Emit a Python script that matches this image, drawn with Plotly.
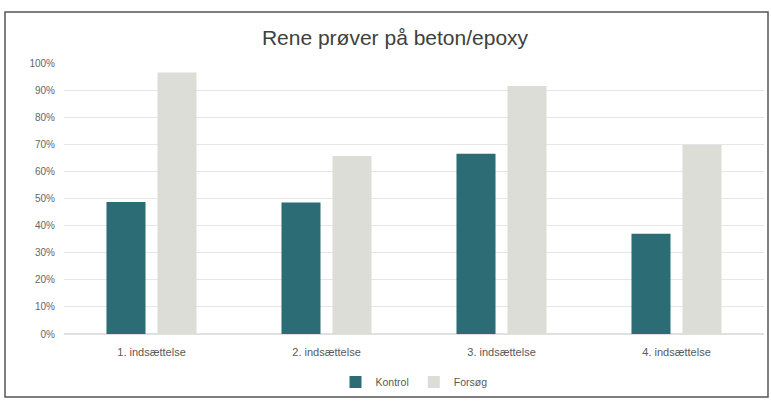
import plotly.graph_objects as go

categories = ["1. indsættelse", "2. indsættelse", "3. indsættelse", "4. indsættelse"]
kontrol = [0.487, 0.485, 0.665, 0.37]
forsoeg = [0.965, 0.657, 0.915, 0.697]

W, H = 771, 403
L, R, T, B = 64, 7, 63, 69
pw, ph = W - L - R, H - T - B

fig = go.Figure()
fig.add_trace(go.Bar(name="Kontrol", x=categories, y=kontrol, marker=dict(color="#2B6C75", line=dict(width=0))))
fig.add_trace(go.Bar(name="Forsøg", x=categories, y=forsoeg, marker=dict(color="#DCDDD7", line=dict(width=0))))

def px_x(p):
    return (p - L) / pw

def px_y(p):
    return (H - B - p) / ph

fig.update_layout(
    width=W, height=H,
    margin=dict(l=L, r=R, t=T, b=B),
    paper_bgcolor="white", plot_bgcolor="white",
    barmode="group", bargap=0.417, bargroupgap=0.235,
    font=dict(family="Liberation Sans, Arial, sans-serif", color="#595959"),
    title=dict(text="Rene prøver på beton/epoxy", x=395 / W, xanchor="center", y=1 - 38 / H, yanchor="middle",
               font=dict(size=21, color="#404040")),
    legend=dict(orientation="h", x=0.5, xanchor="center", y=px_y(382), yanchor="middle",
                font=dict(size=10.5, color="#595959"), itemwidth=30, traceorder="normal",
                bgcolor="rgba(0,0,0,0)", tracegroupgap=0),
    xaxis=dict(showgrid=False, showline=False, ticks="", tickfont=dict(size=11, color="#595959"),
               ticklabelstandoff=10),
    yaxis=dict(range=[0, 1.0], dtick=0.1, tickformat=".0%", showgrid=True, gridcolor="#E6E6E6", gridwidth=1,
               zeroline=True, zerolinecolor="#E0E0E0", showline=False, ticks="",
               tickfont=dict(size=10, color="#666666"), ticklabelstandoff=8),
    shapes=[dict(type="rect", xref="paper", yref="paper",
                 x0=px_x(5), x1=px_x(768), y0=px_y(397), y1=px_y(12),
                 line=dict(color="#555555", width=1.5), fillcolor="rgba(0,0,0,0)", layer="below")],
)

fig.write_html("out.html", config={"displayModeBar": False},
               post_script="document.body.style.margin='0';document.body.style.overflow='hidden';")
